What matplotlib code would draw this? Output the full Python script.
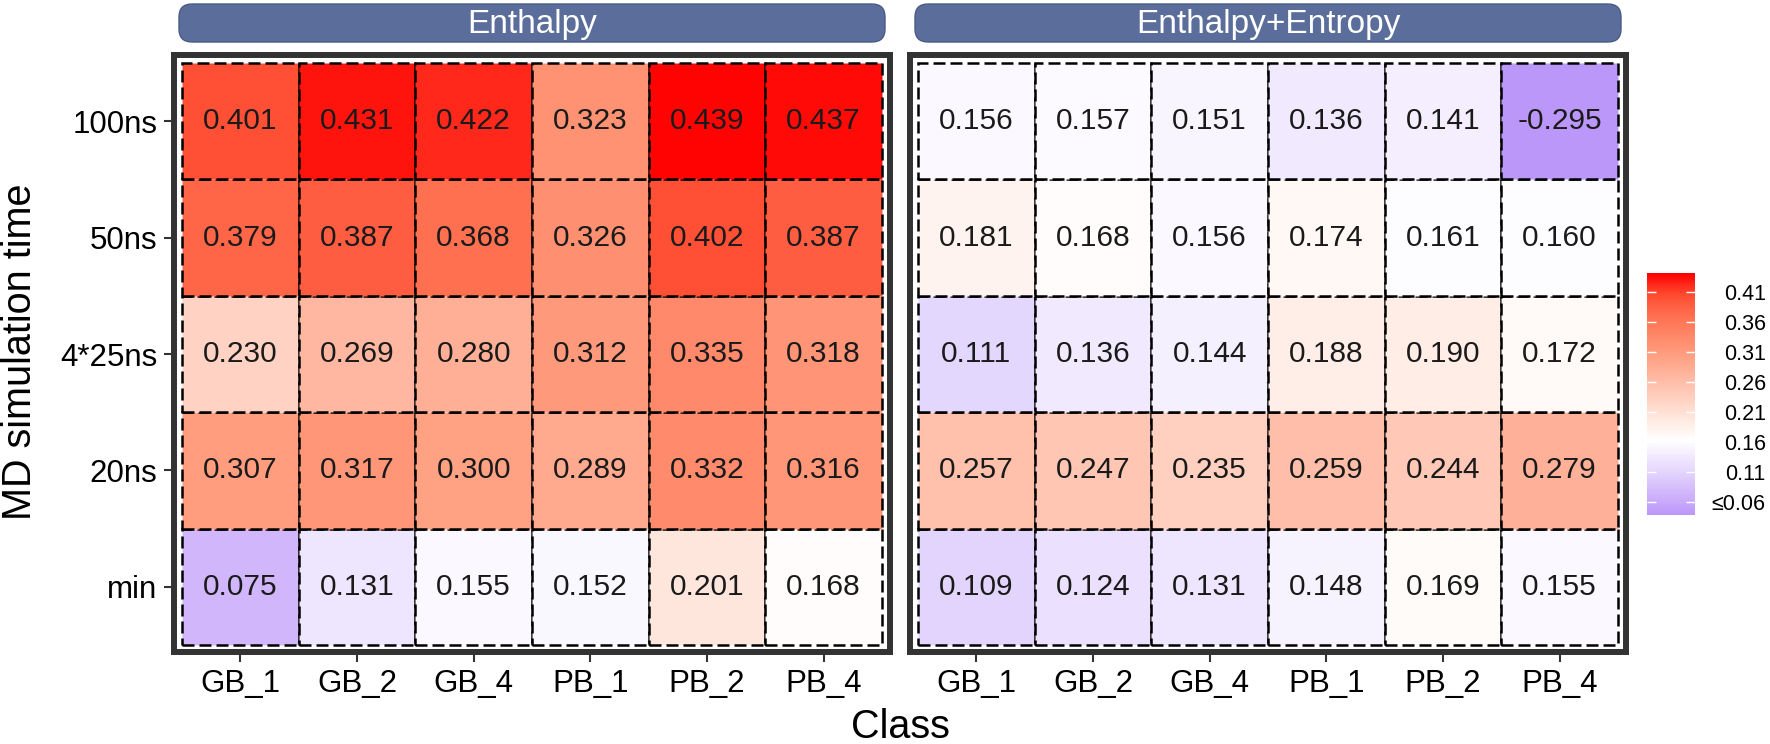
import numpy as np
import matplotlib.pyplot as plt
from matplotlib.colors import LinearSegmentedColormap, Normalize
from matplotlib.cm import ScalarMappable
from matplotlib.patches import Rectangle, FancyBboxPatch

plt.rcParams['font.family'] = ['Liberation Sans', 'DejaVu Sans']

classes = ['GB_1', 'GB_2', 'GB_4', 'PB_1', 'PB_2', 'PB_4']
times = ['min', '20ns', '4*25ns', '50ns', '100ns']  # bottom to top
panels = ['Enthalpy', 'Enthalpy+Entropy']

# rows follow `times`, columns follow `classes`
enthalpy = [
    [0.075, 0.131, 0.155, 0.152, 0.201, 0.168],
    [0.307, 0.317, 0.300, 0.289, 0.332, 0.316],
    [0.230, 0.269, 0.280, 0.312, 0.335, 0.318],
    [0.379, 0.387, 0.368, 0.326, 0.402, 0.387],
    [0.401, 0.431, 0.422, 0.323, 0.439, 0.437],
]
enthalpy_entropy = [
    [0.109, 0.124, 0.131, 0.148, 0.169, 0.155],
    [0.257, 0.247, 0.235, 0.259, 0.244, 0.279],
    [0.111, 0.136, 0.144, 0.188, 0.190, 0.172],
    [0.181, 0.168, 0.156, 0.174, 0.161, 0.160],
    [0.156, 0.157, 0.151, 0.136, 0.141, -0.295],
]

cbar_ticks = [0.06, 0.11, 0.16, 0.21, 0.26, 0.31, 0.36, 0.41]
cbar_labels = ['≤0.06', '0.11', '0.16', '0.21', '0.26', '0.31', '0.36', '0.41']

# colour scale: purple -> white (~0.163) -> red
vmin, vmax = 0.038, 0.442
stops = [
    (0.038, '#BC97FA'), (0.075, '#D2B6FC'), (0.110, '#E4D6FD'), (0.163, '#FFFFFF'),
    (0.198, '#FFE8DF'), (0.233, '#FFD0C0'), (0.268, '#FFB8A2'), (0.3025, '#FFA082'),
    (0.337, '#FF8869'), (0.372, '#FF6E4F'), (0.407, '#FF4A30'), (0.442, '#FF0000'),
]
cmap = LinearSegmentedColormap.from_list(
    'pw_red', [((v - vmin) / (vmax - vmin), c) for v, c in stops])
norm = Normalize(vmin, vmax, clip=True)

W, H = 1770, 744
fig = plt.figure(figsize=(W / 100, H / 100), dpi=100)


def px_axes(x0, y0, x1, y1):
    return fig.add_axes([x0 / W, 1 - y1 / H, (x1 - x0) / W, (y1 - y0) / H])


dash = (0, (4.8, 2.0))
panel_x = [(174, 890), (910, 1626)]
for k, (name, data) in enumerate(zip(panels, [enthalpy, enthalpy_entropy])):
    x0, x1 = panel_x[k]
    ax = px_axes(x0, 55, x1, 652)
    data = np.array(data)
    for i in range(len(times)):
        for j in range(len(classes)):
            v = data[i, j]
            ax.add_patch(Rectangle((j - 0.5, i - 0.5), 1, 1, facecolor=cmap(norm(v)),
                                   edgecolor='black', lw=1.8, ls=dash))
            ax.text(j, i, f'{v:.3f}', ha='center', va='center', fontsize=21.5, color='#1a1a1a')
    ax.set_xlim(-0.5 - 0.069, len(classes) - 0.5 + 0.069)
    ax.set_ylim(-0.5 - 0.06, len(times) - 0.5 + 0.069)
    ax.set_xticks(range(len(classes)), classes)
    if k == 0:
        ax.set_yticks(range(len(times)), times)
    else:
        ax.set_yticks([])
    ax.tick_params(length=7, width=1.5, color='#333333', labelsize=22.5, pad=5)
    for s in ax.spines.values():
        s.set_linewidth(4.3)
        s.set_color('#333333')

    # facet strip
    sax = px_axes(x0 + 4, 3, x1 - 4, 43)
    w = x1 - x0 - 8
    sax.set_xlim(0, w)
    sax.set_ylim(0, 40)
    sax.axis('off')
    sax.add_patch(FancyBboxPatch((1, 1), w - 2, 38, boxstyle='round,pad=0,rounding_size=13',
                                 fc='#5B6E9B', ec='#485A84', lw=1))
    sax.text(w / 2, 19, name, ha='center', va='center', color='white', fontsize=24)

fig.text(20 / W, 1 - 352 / H, 'MD simulation time', rotation=90, ha='center', va='center', fontsize=28.5)
fig.text(900 / W, 1 - 727 / H, 'Class', ha='center', va='center', fontsize=28.5)

# colour bar
cax = px_axes(1647, 273, 1695, 515)
cbar = fig.colorbar(ScalarMappable(norm=norm, cmap=cmap), cax=cax, ticks=cbar_ticks)
cbar.outline.set_visible(False)
cax.set_yticklabels(cbar_labels)
cax.yaxis.set_ticks_position('both')
cax.tick_params(direction='in', length=6.5, width=1, color='white', labelcolor='black',
                labelsize=15.5, labelleft=False, labelright=True, pad=51)
for t in cax.get_yticklabels():
    t.set_ha('right')

fig.savefig('out.png', dpi=100)
